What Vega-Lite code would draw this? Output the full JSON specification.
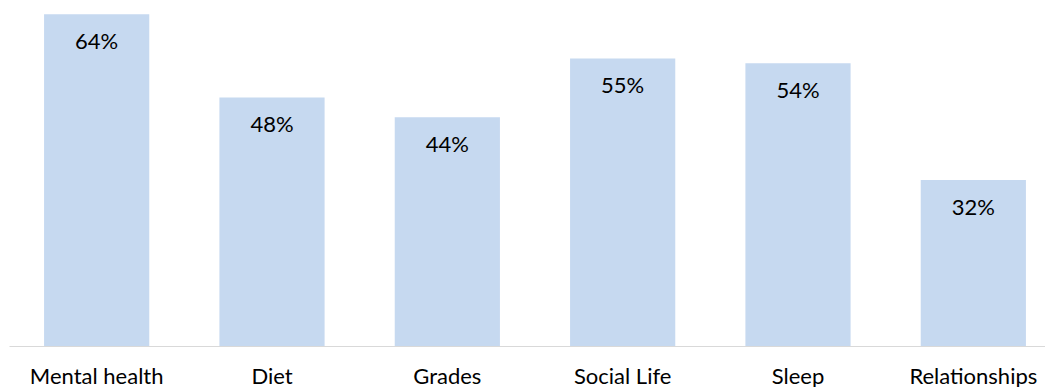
{
  "$schema": "https://vega.github.io/schema/vega-lite/v6.json",
  "autosize": "none",
  "width": 1052,
  "height": 346,
  "padding": {"left": 9, "top": 0, "right": 0, "bottom": 41},
  "background": "white",
  "config": {"view": {"stroke": null}, "font": "Lato"},
  "data": {
    "values": [
      {"category": "Mental health", "value": 0.638},
      {"category": "Diet", "value": 0.478},
      {"category": "Grades", "value": 0.44},
      {"category": "Social Life", "value": 0.553},
      {"category": "Sleep", "value": 0.544},
      {"category": "Relationships", "value": 0.319}
    ]
  },
  "encoding": {
    "x": {
      "field": "category",
      "type": "nominal",
      "sort": null,
      "scale": {"paddingInner": 0.4, "paddingOuter": 0.2},
      "axis": {
        "title": null,
        "labelAngle": 0,
        "labelFont": "Lato",
        "labelFontSize": 22,
        "labelFontWeight": 400,
        "labelColor": "#000000",
        "labelBaseline": "alphabetic",
        "labelPadding": 37,
        "ticks": false,
        "tickSize": 0,
        "domainColor": "#D9D9D9",
        "domainWidth": 1,
        "grid": false
      }
    },
    "y": {
      "field": "value",
      "type": "quantitative",
      "scale": {"domain": [0, 0.6654], "nice": false},
      "axis": null
    }
  },
  "layer": [
    {"mark": {"type": "bar", "color": "#C6D9F0"}},
    {
      "mark": {"type": "text", "baseline": "alphabetic", "dy": 35, "fontSize": 22, "fontWeight": 400, "font": "Lato", "color": "#000000"},
      "encoding": {"text": {"field": "value", "type": "quantitative", "format": ".0%"}}
    }
  ]
}
